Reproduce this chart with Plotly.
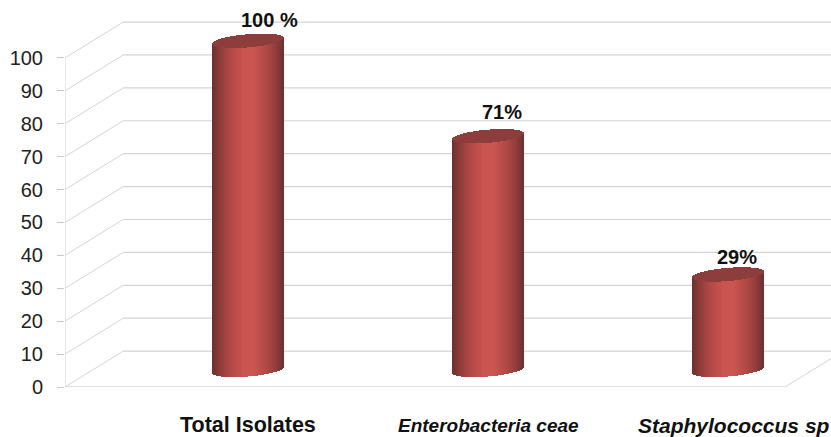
import numpy as np
import plotly.graph_objects as go

categories = ["Total Isolates", "Enterobacteria ceae", "Staphylococcus sp"]
cat_size = [21.5, 19, 21]
cat_pos = [0, 1, 2.025]
values = [100, 71, 29]
labels = ["100 %", "71%", "29%"]
label_dx = [21, 14, 9]
label_dy = [21, 24, 17]
y_ticks = list(range(0, 101, 10))

# geometry (axis units)
DEPTH_Y = 10.9
X_L, X_R = -0.7625, 2.429
X_BACK = -0.52
X_FLOOR_END = 2.2375
RADIUS = 0.148
LIFT = 5.2
MINOR = 2.0
TILT = 0.9
N = 71

stops_t = [-1, -0.8, -0.5, -0.15, 0.15, 0.5, 0.8, 1]
stops_c = [(0x6a, 0x30, 0x2f), (0x8c, 0x3c, 0x3a), (0xb0, 0x48, 0x45), (0xc9, 0x53, 0x50),
           (0xcd, 0x56, 0x53), (0xb4, 0x4a, 0x47), (0x92, 0x3e, 0x3c), (0x6e, 0x32, 0x31)]
def shade(t):
    rgb = [np.interp(t, stops_t, [c[i] for c in stops_c]) for i in range(3)]
    return "rgb(%d,%d,%d)" % tuple(int(v) for v in rgb)

ts = (np.arange(N) + 0.5) / N * 2 - 1
w = RADIUS * 2 / N * 1.25
bx, bbase, bh, bc, cx, cbase, ch = [], [], [], [], [], [], []
for i, v in enumerate(values):
    for t in ts:
        arc = MINOR * np.sqrt(1 - t * t)
        x = i + t * RADIUS
        low = LIFT + TILT * t - arc
        top_c = v + LIFT + TILT * t
        bx.append(x); bbase.append(low); bh.append(top_c - arc - low); bc.append(shade(t))
        cx.append(x); cbase.append(top_c - arc); ch.append(2 * arc)

fig = go.Figure()
fig.add_bar(x=bx, y=bh, base=bbase, width=w, marker=dict(color=bc, line_width=0),
            hoverinfo="skip", showlegend=False)
fig.add_bar(x=cx, y=ch, base=cbase, width=w, marker=dict(color="#8d3e3c", line_width=0),
            hoverinfo="skip", showlegend=False)

GRID = "#d4d4d4"
shapes = [dict(type="line", xref="x", yref="y", x0=X_L, x1=X_L, y0=0, y1=100,
               line=dict(color=GRID, width=1), layer="below"),
          dict(type="line", xref="x", yref="y", x0=X_L, x1=X_FLOOR_END, y0=0, y1=0,
               line=dict(color=GRID, width=1.5), layer="below"),
          dict(type="line", xref="x", yref="y", x0=X_FLOOR_END, x1=X_FLOOR_END + X_BACK - X_L,
               y0=0, y1=DEPTH_Y, line=dict(color=GRID, width=1), layer="below")]
for v in y_ticks:
    shapes.append(dict(type="line", xref="x", yref="y", x0=X_L, x1=X_BACK, y0=v, y1=v + DEPTH_Y,
                       line=dict(color=GRID, width=1), layer="below"))
    shapes.append(dict(type="line", xref="x", yref="y", x0=X_BACK, x1=X_R, y0=v + DEPTH_Y, y1=v + DEPTH_Y,
                       line=dict(color=GRID, width=1.2), layer="below"))

annotations = [dict(x=i, y=v + LIFT, xref="x", yref="y", text="<b>%s</b>" % labels[i], showarrow=False,
                    xshift=label_dx[i], yshift=label_dy[i], xanchor="center", yanchor="middle",
                    font=dict(family="Liberation Sans", size=20, color="#111111"))
               for i, v in enumerate(values)]
for i, c in enumerate(categories):
    txt = "<b>%s</b>" % c if i == 0 else "<b><i>%s</i></b>" % c
    annotations.append(dict(x=cat_pos[i], y=0, xref="x", yref="paper", text=txt, showarrow=False,
                            yshift=-38, xanchor="center", yanchor="middle",
                            font=dict(family="Liberation Sans", size=cat_size[i], color="#111111")))

fig.update_layout(
    width=831, height=437, autosize=False, barmode="overlay", bargap=0,
    margin=dict(l=65, r=0, t=0, b=50, pad=0),
    paper_bgcolor="white", plot_bgcolor="white", showlegend=False,
    shapes=shapes, annotations=annotations,
    xaxis=dict(range=[X_L, X_R], showticklabels=False, ticks="", showgrid=False, zeroline=False, showline=False),
    yaxis=dict(range=[0, 117.6], tickmode="array", tickvals=y_ticks, ticks="outside", ticklen=7, tickcolor="#c8c8c8",
               ticklabelstandoff=10, showgrid=False, zeroline=False, showline=False,
               tickfont=dict(family="Liberation Sans", size=20, color="#222222")),
)
fig.write_html("out.html", config=dict(displayModeBar=False),
               post_script="document.body.style.margin='0';document.documentElement.style.overflow='hidden';")
